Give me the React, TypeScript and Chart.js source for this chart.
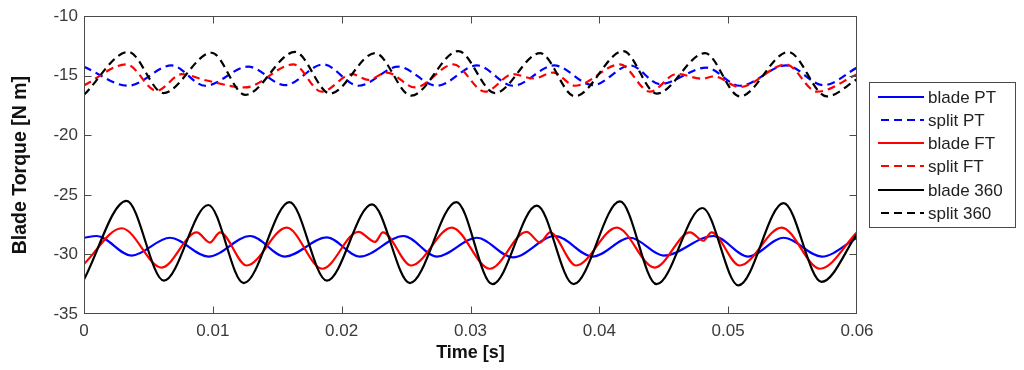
import React, { useEffect, useRef } from 'react';
import { Chart, registerables } from 'chart.js';

Chart.register(...registerables);

// time in milliseconds (converted to seconds for the axis), values in N m
const bladePT_ms = [0, 0.98, 3.7, 6.67, 9.65, 12.9, 15.6, 18.84, 21.4, 24.8, 27.4, 30.5, 33.3, 36.56, 39.5, 42.4, 45.0, 48.85, 51.57, 54.3, 57.26, 60];
const bladePT_val = [-28.6, -28.45, -30.1, -28.6, -30.18, -28.45, -30.18, -28.57, -30.18, -28.45, -30.18, -28.6, -30.24, -28.45, -30.18, -28.6, -30.1, -28.45, -30.18, -28.6, -30.18, -28.6];

const splitPT_ms = [0, 3.44, 6.8, 9.4, 12.75, 15.6, 18.57, 21.3, 24.4, 27.4, 30.5, 33.3, 36.5, 39.5, 42.4, 44.7, 48.3, 50.9, 54.5, 57.4, 60];
const splitPT_val = [-14.24, -15.84, -14.13, -15.84, -14.24, -15.79, -14.05, -15.84, -14.24, -15.84, -14.13, -15.84, -14.13, -15.79, -14.13, -15.7, -14.32, -15.84, -14.13, -15.79, -14.32];

const bladeFT_ms = [0, 2.93, 6.03, 8.75, 9.78, 10.56, 12.63, 15.73, 18.5, 21.3, 22.6, 23.2, 25.4, 28.54, 31.5, 34.36, 35.4, 36.17, 38.2, 41.35, 44.3, 47.04, 48.07, 48.7, 50.9, 54.15, 57.13, 60];
const bladeFT_val = [-30.8, -27.8, -31.1, -28.15, -29.0, -28.15, -30.93, -27.75, -31.2, -28.1, -28.94, -28.15, -30.93, -27.75, -31.2, -28.1, -29.0, -28.15, -30.93, -27.75, -31.1, -28.15, -28.85, -28.15, -30.93, -27.75, -31.2, -28.15];

const splitFT_ms = [0, 3.3, 5.64, 7.58, 9.52, 12.5, 16.25, 18.45, 20.8, 22.07, 23.5, 25.7, 28.67, 31.13, 33.3, 34.9, 36.43, 38.1, 41.6, 43.93, 46.0, 48.0, 48.9, 50.9, 54.5, 56.9, 60];
const splitFT_val = [-15.8, -14.05, -16.26, -14.87, -15.4, -15.98, -14.05, -16.34, -14.87, -15.34, -14.73, -15.98, -14.05, -16.34, -14.87, -15.23, -14.73, -15.84, -14.05, -16.34, -14.85, -15.25, -15.05, -15.95, -14.05, -16.34, -14.87];

const blade360_ms = [0, 3.3, 6.2, 9.65, 12.4, 15.95, 18.85, 22.35, 25.3, 28.9, 31.7, 35.15, 38.0, 41.6, 44.45, 48.0, 50.8, 54.3, 57.25, 60];
const blade360_val = [-32.1, -25.5, -32.2, -25.85, -32.4, -25.6, -32.2, -25.8, -32.4, -25.6, -32.5, -25.9, -32.5, -25.55, -32.5, -26.1, -32.6, -25.7, -32.3, -28.3];

const split360_ms = [0, 3.44, 6.16, 9.9, 12.5, 16.38, 19.1, 22.6, 25.4, 29.05, 31.9, 35.4, 38.1, 41.86, 44.45, 48.2, 50.9, 54.67, 57.65, 60];
const split360_val = [-16.6, -13.0, -16.45, -13.07, -16.6, -13.0, -16.5, -13.1, -16.67, -12.93, -16.45, -13.1, -16.73, -12.93, -16.5, -13.1, -16.73, -13.0, -16.73, -15.3];

const seriesNames = ['blade PT', 'split PT', 'blade FT', 'split FT', 'blade 360', 'split 360'];
const seriesColors = ['#0000ff', '#0000ff', '#ff0000', '#ff0000', '#000000', '#000000'];
const seriesDashed = [false, true, false, true, false, true];

const xTickValues = [0, 0.01, 0.02, 0.03, 0.04, 0.05, 0.06];
const xTickLabels = ['0', '0.01', '0.02', '0.03', '0.04', '0.05', '0.06'];
const yTickValues = [-35, -30, -25, -20, -15, -10];
const yTickLabels = ['-35', '-30', '-25', '-20', '-15', '-10'];

const FONT = "'Liberation Sans', Arial, sans-serif";
const DASH = [8, 5];

const toPoints = (ms: number[], val: number[]) => ms.map((t, i) => ({ x: t / 1000, y: val[i] }));

const framePlugin = {
  id: 'matlabFrame',
  afterDraw(chart: any) {
    const { ctx, chartArea } = chart;
    const { left, right, top, bottom } = chartArea;
    const xs = chart.scales.x;
    const ys = chart.scales.y;
    ctx.save();
    ctx.strokeStyle = '#4a4a4a';
    ctx.lineWidth = 1;
    const L = Math.round(left) + 0.5;
    const R = Math.round(right) - 0.5;
    const T = Math.round(top) + 0.5;
    const B = Math.round(bottom) - 0.5;
    ctx.strokeRect(L, T, R - L, B - T);
    const tl = 7;
    ctx.beginPath();
    xTickValues.forEach((v) => {
      const px = Math.round(xs.getPixelForValue(v)) + 0.5;
      if (px <= L + 1 || px >= R - 1) return;
      ctx.moveTo(px, B);
      ctx.lineTo(px, B - tl);
      ctx.moveTo(px, T);
      ctx.lineTo(px, T + tl);
    });
    yTickValues.forEach((v) => {
      const py = Math.round(ys.getPixelForValue(v)) + 0.5;
      if (py <= T + 1 || py >= B - 1) return;
      ctx.moveTo(L, py);
      ctx.lineTo(L + tl, py);
      ctx.moveTo(R, py);
      ctx.lineTo(R - tl, py);
    });
    ctx.stroke();

    // legend box
    const bx = 869.5, by = 82.5, bw = 146, bh = 145;
    ctx.fillStyle = '#ffffff';
    ctx.fillRect(bx, by, bw, bh);
    ctx.strokeStyle = '#4a4a4a';
    ctx.lineWidth = 1;
    ctx.strokeRect(bx, by, bw, bh);
    const rowY = [97, 120, 143, 166, 190, 213];
    ctx.font = `17px ${FONT}`;
    ctx.textBaseline = 'middle';
    ctx.textAlign = 'left';
    seriesNames.forEach((name, i) => {
      const y = rowY[i];
      ctx.save();
      ctx.strokeStyle = seriesColors[i];
      ctx.lineWidth = 2;
      ctx.setLineDash(seriesDashed[i] ? DASH : []);
      ctx.lineDashOffset = seriesDashed[i] ? -3 : 0;
      ctx.beginPath();
      ctx.moveTo(878, y);
      ctx.lineTo(924, y);
      ctx.stroke();
      ctx.restore();
      ctx.fillStyle = '#222222';
      ctx.fillText(name, 928, y + 1);
    });
    ctx.restore();
  },
};

export default function App() {
  const canvasRef = useRef<HTMLCanvasElement | null>(null);

  useEffect(() => {
    if (!canvasRef.current) return;
    const msArrays = [bladePT_ms, splitPT_ms, bladeFT_ms, splitFT_ms, blade360_ms, split360_ms];
    const valArrays = [bladePT_val, splitPT_val, bladeFT_val, splitFT_val, blade360_val, split360_val];
    const datasets = seriesNames.map((name, i) => ({
      label: name,
      data: toPoints(msArrays[i], valArrays[i]),
      borderColor: seriesColors[i],
      backgroundColor: seriesColors[i],
      borderWidth: 2.2,
      borderDash: seriesDashed[i] ? DASH : [],
      pointRadius: 0,
      cubicInterpolationMode: 'monotone' as const,
      fill: false,
      order: 6 - i,
    }));

    const chart = new Chart(canvasRef.current, {
      type: 'line',
      data: { datasets },
      options: {
        animation: false,
        responsive: true,
        maintainAspectRatio: false,
        layout: { padding: { top: 13, right: 167, bottom: 0, left: 0 } },
        plugins: {
          legend: { display: false },
          tooltip: { enabled: false },
        },
        scales: {
          x: {
            type: 'linear',
            min: 0,
            max: 0.06,
            afterBuildTicks: (scale: any) => {
              scale.ticks = xTickValues.map((v) => ({ value: v }));
            },
            afterFit: (scale: any) => {
              scale.height = 56;
            },
            grid: { display: false, drawTicks: false },
            border: { display: false },
            ticks: {
              padding: 7,
              color: '#3a3a3a',
              font: { family: FONT, size: 17 },
              maxRotation: 0,
              autoSkip: false,
              callback: (_v: any, i: number) => xTickLabels[i],
            },
            title: {
              display: true,
              text: 'Time [s]',
              color: '#111111',
              font: { family: FONT, size: 18, weight: 'bold' },
              padding: { top: 0, bottom: 6 },
            },
          },
          y: {
            type: 'linear',
            min: -35,
            max: -10,
            afterBuildTicks: (scale: any) => {
              scale.ticks = yTickValues.map((v) => ({ value: v }));
            },
            afterFit: (scale: any) => {
              scale.width = 84;
            },
            grid: { display: false, drawTicks: false },
            border: { display: false },
            ticks: {
              padding: 6,
              color: '#3a3a3a',
              font: { family: FONT, size: 17 },
              autoSkip: false,
              callback: (_v: any, i: number) => yTickLabels[i],
            },
            title: {
              display: true,
              text: 'Blade Torque [N m]',
              color: '#111111',
              font: { family: FONT, size: 19.5, weight: 'bold' },
              padding: { top: 9, bottom: 0 },
            },
          },
        },
      },
      plugins: [framePlugin],
    });
    return () => chart.destroy();
  }, []);

  return (
    <div style={{ position: 'fixed', left: 0, top: 0, width: 1024, height: 370, background: '#ffffff' }}>
      <canvas ref={canvasRef} />
    </div>
  );
}
